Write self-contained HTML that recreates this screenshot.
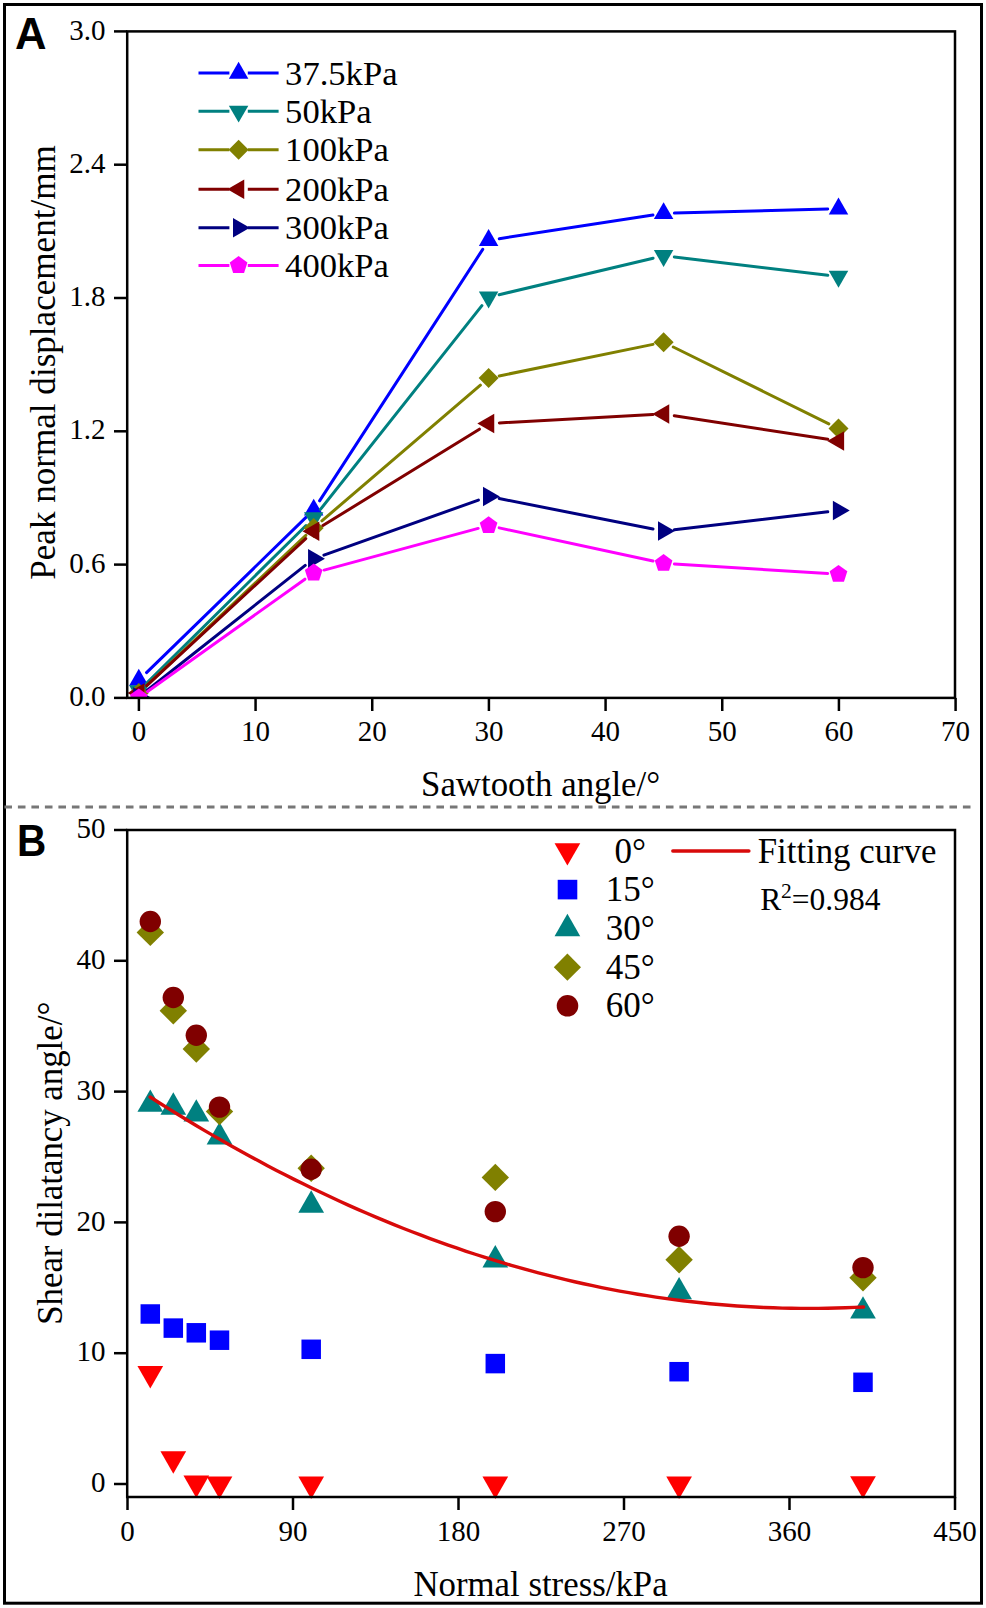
<!DOCTYPE html>
<html><head><meta charset="utf-8"><style>
html,body{margin:0;padding:0;background:#fff;}
body{width:986px;height:1608px;overflow:hidden;font-family:"Liberation Serif",serif;}
svg{display:block;}
</style></head><body>
<svg width="986" height="1608" viewBox="0 0 986 1608">
<rect x="0" y="0" width="986" height="1608" fill="#fff"/>
<rect x="4.5" y="4.5" width="977" height="1598.7" fill="none" stroke="#000" stroke-width="3"/>
<line x1="4.4" y1="807" x2="971.6" y2="807" stroke="#777" stroke-width="3" stroke-dasharray="7.6 5.9"/>
<text x="15.0" y="48.7" font-family="Liberation Sans, sans-serif" font-weight="bold" font-size="43.7" fill="#000">A</text>
<text transform="translate(16.9,855.6) scale(0.93,1)" x="0" y="0" font-family="Liberation Sans, sans-serif" font-weight="bold" font-size="43.6" fill="#000">B</text>
<line x1="114" y1="697.90" x2="127.2" y2="697.90" stroke="#000" stroke-width="2.5"/>
<text x="105.6" y="706.00" font-family="Liberation Serif, serif" font-size="29" text-anchor="end">0.0</text>
<line x1="114" y1="564.60" x2="127.2" y2="564.60" stroke="#000" stroke-width="2.5"/>
<text x="105.6" y="572.70" font-family="Liberation Serif, serif" font-size="29" text-anchor="end">0.6</text>
<line x1="114" y1="431.30" x2="127.2" y2="431.30" stroke="#000" stroke-width="2.5"/>
<text x="105.6" y="439.40" font-family="Liberation Serif, serif" font-size="29" text-anchor="end">1.2</text>
<line x1="114" y1="298.00" x2="127.2" y2="298.00" stroke="#000" stroke-width="2.5"/>
<text x="105.6" y="306.10" font-family="Liberation Serif, serif" font-size="29" text-anchor="end">1.8</text>
<line x1="114" y1="164.70" x2="127.2" y2="164.70" stroke="#000" stroke-width="2.5"/>
<text x="105.6" y="172.80" font-family="Liberation Serif, serif" font-size="29" text-anchor="end">2.4</text>
<line x1="114" y1="31.40" x2="127.2" y2="31.40" stroke="#000" stroke-width="2.5"/>
<text x="105.6" y="39.50" font-family="Liberation Serif, serif" font-size="29" text-anchor="end">3.0</text>
<line x1="138.90" y1="697.9" x2="138.90" y2="711" stroke="#000" stroke-width="2.5"/>
<text x="138.90" y="741.3" font-family="Liberation Serif, serif" font-size="29" text-anchor="middle">0</text>
<line x1="255.57" y1="697.9" x2="255.57" y2="711" stroke="#000" stroke-width="2.5"/>
<text x="255.57" y="741.3" font-family="Liberation Serif, serif" font-size="29" text-anchor="middle">10</text>
<line x1="372.24" y1="697.9" x2="372.24" y2="711" stroke="#000" stroke-width="2.5"/>
<text x="372.24" y="741.3" font-family="Liberation Serif, serif" font-size="29" text-anchor="middle">20</text>
<line x1="488.91" y1="697.9" x2="488.91" y2="711" stroke="#000" stroke-width="2.5"/>
<text x="488.91" y="741.3" font-family="Liberation Serif, serif" font-size="29" text-anchor="middle">30</text>
<line x1="605.58" y1="697.9" x2="605.58" y2="711" stroke="#000" stroke-width="2.5"/>
<text x="605.58" y="741.3" font-family="Liberation Serif, serif" font-size="29" text-anchor="middle">40</text>
<line x1="722.25" y1="697.9" x2="722.25" y2="711" stroke="#000" stroke-width="2.5"/>
<text x="722.25" y="741.3" font-family="Liberation Serif, serif" font-size="29" text-anchor="middle">50</text>
<line x1="838.92" y1="697.9" x2="838.92" y2="711" stroke="#000" stroke-width="2.5"/>
<text x="838.92" y="741.3" font-family="Liberation Serif, serif" font-size="29" text-anchor="middle">60</text>
<line x1="955.59" y1="697.9" x2="955.59" y2="711" stroke="#000" stroke-width="2.5"/>
<text x="955.59" y="741.3" font-family="Liberation Serif, serif" font-size="29" text-anchor="middle">70</text>
<text x="540.6" y="795.9" font-family="Liberation Serif, serif" font-size="34.8" text-anchor="middle">Sawtooth angle/°</text>
<text transform="translate(55.0,362.5) rotate(-90)" x="0" y="0" font-family="Liberation Serif, serif" font-size="35.1" text-anchor="middle">Peak normal displacement/mm</text>
<clipPath id="clipA"><rect x="127.2" y="31.4" width="827.8" height="666.5"/></clipPath>
<g clip-path="url(#clipA)">
<path d="M146.54,672.57L305.96,517.43M319.58,500.84L482.72,249.36M499.27,238.66L652.93,215.04M674.40,213.12L827.70,209.08" stroke="#0000FF" stroke-width="3" fill="none" stroke-linecap="round"/>
<path d="M138.80,668.84L148.55,685.73L129.05,685.73Z" fill="#0000FF"/>
<path d="M313.70,498.64L323.45,515.53L303.95,515.53Z" fill="#0000FF"/>
<path d="M488.60,229.04L498.35,245.93L478.85,245.93Z" fill="#0000FF"/>
<path d="M663.60,202.14L673.35,219.03L653.85,219.03Z" fill="#0000FF"/>
<path d="M838.50,197.54L848.25,214.43L828.75,214.43Z" fill="#0000FF"/>
<path d="M146.48,683.40L306.02,525.50M320.41,509.44L481.89,305.66M499.11,294.71L653.09,258.19M674.32,256.98L827.78,275.22" stroke="#008080" stroke-width="3" fill="none" stroke-linecap="round"/>
<path d="M138.80,702.26L148.55,685.37L129.05,685.37Z" fill="#008080"/>
<path d="M313.70,529.16L323.45,512.27L303.95,512.27Z" fill="#008080"/>
<path d="M488.60,308.46L498.35,291.57L478.85,291.57Z" fill="#008080"/>
<path d="M663.60,266.96L673.35,250.07L653.85,250.07Z" fill="#008080"/>
<path d="M838.50,287.76L848.25,270.87L828.75,270.87Z" fill="#008080"/>
<path d="M146.65,685.59L305.85,535.31M321.90,520.87L480.40,385.13M499.18,375.93L653.02,344.37M673.28,346.98L828.82,423.82" stroke="#808000" stroke-width="3" fill="none" stroke-linecap="round"/>
<path d="M138.80,683.00L148.80,693.00L138.80,703.00L128.80,693.00Z" fill="#808000"/>
<path d="M313.70,517.90L323.70,527.90L313.70,537.90L303.70,527.90Z" fill="#808000"/>
<path d="M488.60,368.10L498.60,378.10L488.60,388.10L478.60,378.10Z" fill="#808000"/>
<path d="M663.60,332.20L673.60,342.20L663.60,352.20L653.60,342.20Z" fill="#808000"/>
<path d="M838.50,418.60L848.50,428.60L838.50,438.60L828.50,428.60Z" fill="#808000"/>
<path d="M146.73,685.67L305.77,538.53M322.90,525.54L479.40,429.16M499.38,422.91L652.82,414.59M674.27,415.65L827.83,439.35" stroke="#800000" stroke-width="3" fill="none" stroke-linecap="round"/>
<path d="M127.54,693.00L144.43,683.25L144.43,702.75Z" fill="#800000"/>
<path d="M302.44,531.20L319.33,521.45L319.33,540.95Z" fill="#800000"/>
<path d="M477.34,423.50L494.23,413.75L494.23,433.25Z" fill="#800000"/>
<path d="M652.34,414.00L669.23,404.25L669.23,423.75Z" fill="#800000"/>
<path d="M827.24,441.00L844.13,431.25L844.13,450.75Z" fill="#800000"/>
<path d="M147.27,690.30L305.23,565.40M323.88,555.08L478.42,500.12M499.20,498.59L653.00,528.91M674.33,529.74L827.77,511.76" stroke="#000080" stroke-width="3" fill="none" stroke-linecap="round"/>
<path d="M150.06,697.00L133.17,687.25L133.17,706.75Z" fill="#000080"/>
<path d="M324.96,558.70L308.07,548.95L308.07,568.45Z" fill="#000080"/>
<path d="M499.86,496.50L482.97,486.75L482.97,506.25Z" fill="#000080"/>
<path d="M674.86,531.00L657.97,521.25L657.97,540.75Z" fill="#000080"/>
<path d="M849.76,510.50L832.87,500.75L832.87,520.25Z" fill="#000080"/>
<path d="M147.59,691.43L304.91,579.17M324.13,570.08L478.17,528.42M499.16,527.87L653.04,561.03M674.38,563.97L827.72,573.53" stroke="#FF00FF" stroke-width="3" fill="none" stroke-linecap="round"/>
<path d="M138.80,688.40L147.64,694.83L144.27,705.22L133.33,705.22L129.96,694.83Z" fill="#FF00FF"/>
<path d="M313.70,563.60L322.54,570.03L319.17,580.42L308.23,580.42L304.86,570.03Z" fill="#FF00FF"/>
<path d="M488.60,516.30L497.44,522.73L494.07,533.12L483.13,533.12L479.76,522.73Z" fill="#FF00FF"/>
<path d="M663.60,554.00L672.44,560.43L669.07,570.82L658.13,570.82L654.76,560.43Z" fill="#FF00FF"/>
<path d="M838.50,564.90L847.34,571.33L843.97,581.72L833.03,581.72L829.66,571.33Z" fill="#FF00FF"/>
</g>
<rect x="127.2" y="31.4" width="827.8" height="666.5" fill="none" stroke="#000" stroke-width="2.5"/>
<path d="M198.5,73.0H229.4M247.8,73.0H278.6" stroke="#0000FF" stroke-width="3" fill="none"/>
<path d="M238.60,61.74L248.35,78.63L228.85,78.63Z" fill="#0000FF"/>
<text x="285.1" y="84.60" font-family="Liberation Serif, serif" font-size="34.6">37.5kPa</text>
<path d="M198.5,111.3H229.4M247.8,111.3H278.6" stroke="#008080" stroke-width="3" fill="none"/>
<path d="M238.60,122.56L248.35,105.67L228.85,105.67Z" fill="#008080"/>
<text x="285.1" y="122.90" font-family="Liberation Serif, serif" font-size="34.6">50kPa</text>
<path d="M198.5,149.8H229.4M247.8,149.8H278.6" stroke="#808000" stroke-width="3" fill="none"/>
<path d="M238.60,139.80L248.60,149.80L238.60,159.80L228.60,149.80Z" fill="#808000"/>
<text x="285.1" y="161.40" font-family="Liberation Serif, serif" font-size="34.6">100kPa</text>
<path d="M198.5,189.2H229.4M247.8,189.2H278.6" stroke="#800000" stroke-width="3" fill="none"/>
<path d="M227.34,189.20L244.23,179.45L244.23,198.95Z" fill="#800000"/>
<text x="285.1" y="200.80" font-family="Liberation Serif, serif" font-size="34.6">200kPa</text>
<path d="M198.5,227.7H229.4M247.8,227.7H278.6" stroke="#000080" stroke-width="3" fill="none"/>
<path d="M249.86,227.70L232.97,217.95L232.97,237.45Z" fill="#000080"/>
<text x="285.1" y="239.30" font-family="Liberation Serif, serif" font-size="34.6">300kPa</text>
<path d="M198.5,265.4H229.4M247.8,265.4H278.6" stroke="#FF00FF" stroke-width="3" fill="none"/>
<path d="M238.60,256.10L247.44,262.53L244.07,272.92L233.13,272.92L229.76,262.53Z" fill="#FF00FF"/>
<text x="285.1" y="277.00" font-family="Liberation Serif, serif" font-size="34.6">400kPa</text>
<line x1="114" y1="1484.00" x2="127.2" y2="1484.00" stroke="#000" stroke-width="2.5"/>
<text x="105.6" y="1492.10" font-family="Liberation Serif, serif" font-size="29" text-anchor="end">0</text>
<line x1="114" y1="1353.20" x2="127.2" y2="1353.20" stroke="#000" stroke-width="2.5"/>
<text x="105.6" y="1361.30" font-family="Liberation Serif, serif" font-size="29" text-anchor="end">10</text>
<line x1="114" y1="1222.40" x2="127.2" y2="1222.40" stroke="#000" stroke-width="2.5"/>
<text x="105.6" y="1230.50" font-family="Liberation Serif, serif" font-size="29" text-anchor="end">20</text>
<line x1="114" y1="1091.60" x2="127.2" y2="1091.60" stroke="#000" stroke-width="2.5"/>
<text x="105.6" y="1099.70" font-family="Liberation Serif, serif" font-size="29" text-anchor="end">30</text>
<line x1="114" y1="960.80" x2="127.2" y2="960.80" stroke="#000" stroke-width="2.5"/>
<text x="105.6" y="968.90" font-family="Liberation Serif, serif" font-size="29" text-anchor="end">40</text>
<line x1="114" y1="830.00" x2="127.2" y2="830.00" stroke="#000" stroke-width="2.5"/>
<text x="105.6" y="838.10" font-family="Liberation Serif, serif" font-size="29" text-anchor="end">50</text>
<line x1="127.50" y1="1497.0" x2="127.50" y2="1510" stroke="#000" stroke-width="2.5"/>
<text x="127.50" y="1540.7" font-family="Liberation Serif, serif" font-size="29" text-anchor="middle">0</text>
<line x1="293.00" y1="1497.0" x2="293.00" y2="1510" stroke="#000" stroke-width="2.5"/>
<text x="293.00" y="1540.7" font-family="Liberation Serif, serif" font-size="29" text-anchor="middle">90</text>
<line x1="458.50" y1="1497.0" x2="458.50" y2="1510" stroke="#000" stroke-width="2.5"/>
<text x="458.50" y="1540.7" font-family="Liberation Serif, serif" font-size="29" text-anchor="middle">180</text>
<line x1="624.00" y1="1497.0" x2="624.00" y2="1510" stroke="#000" stroke-width="2.5"/>
<text x="624.00" y="1540.7" font-family="Liberation Serif, serif" font-size="29" text-anchor="middle">270</text>
<line x1="789.50" y1="1497.0" x2="789.50" y2="1510" stroke="#000" stroke-width="2.5"/>
<text x="789.50" y="1540.7" font-family="Liberation Serif, serif" font-size="29" text-anchor="middle">360</text>
<line x1="955.00" y1="1497.0" x2="955.00" y2="1510" stroke="#000" stroke-width="2.5"/>
<text x="955.00" y="1540.7" font-family="Liberation Serif, serif" font-size="29" text-anchor="middle">450</text>
<text x="540.5" y="1595.5" font-family="Liberation Serif, serif" font-size="34.8" text-anchor="middle">Normal stress/kPa</text>
<text transform="translate(61.9,1163.25) rotate(-90)" x="0" y="0" font-family="Liberation Serif, serif" font-size="34.8" text-anchor="middle">Shear dilatancy angle/°</text>
<clipPath id="clipB"><rect x="127.2" y="830.0" width="827.8" height="667.0"/></clipPath>
<g>
<path d="M137.45,1366.00H163.15L150.30,1388.40Z" fill="#FF0000"/>
<path d="M160.45,1451.30H186.15L173.30,1473.70Z" fill="#FF0000"/>
<path d="M183.45,1475.60H209.15L196.30,1498.00Z" fill="#FF0000"/>
<path d="M206.65,1476.50H232.35L219.50,1498.90Z" fill="#FF0000"/>
<path d="M298.35,1476.50H324.05L311.20,1498.90Z" fill="#FF0000"/>
<path d="M482.45,1476.50H508.15L495.30,1498.90Z" fill="#FF0000"/>
<path d="M666.25,1476.50H691.95L679.10,1498.90Z" fill="#FF0000"/>
<path d="M850.15,1476.30H875.85L863.00,1498.70Z" fill="#FF0000"/>
<path d="M140.55,1304.25h19.50v19.50h-19.50Z" fill="#0000FF"/>
<path d="M163.55,1318.35h19.50v19.50h-19.50Z" fill="#0000FF"/>
<path d="M186.55,1323.05h19.50v19.50h-19.50Z" fill="#0000FF"/>
<path d="M209.75,1330.45h19.50v19.50h-19.50Z" fill="#0000FF"/>
<path d="M301.45,1339.55h19.50v19.50h-19.50Z" fill="#0000FF"/>
<path d="M485.55,1353.85h19.50v19.50h-19.50Z" fill="#0000FF"/>
<path d="M669.35,1361.95h19.50v19.50h-19.50Z" fill="#0000FF"/>
<path d="M853.25,1372.55h19.50v19.50h-19.50Z" fill="#0000FF"/>
<path d="M150.30,1089.40L163.15,1111.80H137.45Z" fill="#008080"/>
<path d="M173.30,1092.30L186.15,1114.70H160.45Z" fill="#008080"/>
<path d="M196.30,1099.20L209.15,1121.60H183.45Z" fill="#008080"/>
<path d="M219.50,1122.00L232.35,1144.40H206.65Z" fill="#008080"/>
<path d="M311.20,1190.30L324.05,1212.70H298.35Z" fill="#008080"/>
<path d="M495.30,1245.00L508.15,1267.40H482.45Z" fill="#008080"/>
<path d="M679.10,1276.90L691.95,1299.30H666.25Z" fill="#008080"/>
<path d="M863.00,1296.20L875.85,1318.60H850.15Z" fill="#008080"/>
<path d="M150.30,918.70L164.00,932.40L150.30,946.10L136.60,932.40Z" fill="#808000"/>
<path d="M173.30,997.10L187.00,1010.80L173.30,1024.50L159.60,1010.80Z" fill="#808000"/>
<path d="M196.30,1035.30L210.00,1049.00L196.30,1062.70L182.60,1049.00Z" fill="#808000"/>
<path d="M219.50,1097.90L233.20,1111.60L219.50,1125.30L205.80,1111.60Z" fill="#808000"/>
<path d="M311.20,1154.50L324.90,1168.20L311.20,1181.90L297.50,1168.20Z" fill="#808000"/>
<path d="M495.30,1163.70L509.00,1177.40L495.30,1191.10L481.60,1177.40Z" fill="#808000"/>
<path d="M679.10,1246.10L692.80,1259.80L679.10,1273.50L665.40,1259.80Z" fill="#808000"/>
<path d="M863.00,1264.00L876.70,1277.70L863.00,1291.40L849.30,1277.70Z" fill="#808000"/>
<circle cx="150.30" cy="921.50" r="10.7" fill="#800000"/>
<circle cx="173.30" cy="997.50" r="10.7" fill="#800000"/>
<circle cx="196.30" cy="1035.30" r="10.7" fill="#800000"/>
<circle cx="219.50" cy="1107.10" r="10.7" fill="#800000"/>
<circle cx="311.20" cy="1169.30" r="10.7" fill="#800000"/>
<circle cx="495.30" cy="1211.60" r="10.7" fill="#800000"/>
<circle cx="679.10" cy="1236.30" r="10.7" fill="#800000"/>
<circle cx="863.00" cy="1267.60" r="10.7" fill="#800000"/>
</g>
<path d="M150.10,1096.96L159.13,1102.72L168.16,1108.41L177.19,1114.01L186.23,1119.53L195.26,1124.98L204.29,1130.34L213.32,1135.63L222.35,1140.83L231.38,1145.96L240.42,1151.00L249.45,1155.97L258.48,1160.86L267.51,1165.66L276.54,1170.39L285.57,1175.04L294.61,1179.61L303.64,1184.09L312.67,1188.50L321.70,1192.83L330.73,1197.08L339.76,1201.25L348.80,1205.34L357.83,1209.35L366.86,1213.29L375.89,1217.14L384.92,1220.91L393.95,1224.60L402.99,1228.22L412.02,1231.75L421.05,1235.20L430.08,1238.58L439.11,1241.87L448.14,1245.09L457.18,1248.22L466.21,1251.28L475.24,1254.25L484.27,1257.15L493.30,1259.97L502.33,1262.71L511.37,1265.36L520.40,1267.94L529.43,1270.44L538.46,1272.86L547.49,1275.20L556.52,1277.46L565.56,1279.64L574.59,1281.74L583.62,1283.76L592.65,1285.70L601.68,1287.56L610.71,1289.35L619.75,1291.05L628.78,1292.67L637.81,1294.22L646.84,1295.68L655.87,1297.06L664.90,1298.37L673.94,1299.59L682.97,1300.74L692.00,1301.80L701.03,1302.79L710.06,1303.70L719.09,1304.52L728.13,1305.27L737.16,1305.94L746.19,1306.53L755.22,1307.04L764.25,1307.47L773.28,1307.82L782.32,1308.09L791.35,1308.28L800.38,1308.39L809.41,1308.42L818.44,1308.37L827.47,1308.24L836.51,1308.03L845.54,1307.75L854.57,1307.38L863.60,1306.93" stroke="#D80A0A" stroke-width="3.4" fill="none" stroke-linecap="round" stroke-linejoin="round"/>
<rect x="127.2" y="830.0" width="827.8" height="667.0" fill="none" stroke="#000" stroke-width="2.5"/>
<path d="M554.55,843.20H580.25L567.40,865.60Z" fill="#FF0000"/>
<path d="M557.70,879.80h19.60v19.60h-19.60Z" fill="#0000FF"/>
<path d="M567.40,913.80L580.25,936.20H554.55Z" fill="#008080"/>
<path d="M567.40,953.60L581.00,967.20L567.40,980.80L553.80,967.20Z" fill="#808000"/>
<circle cx="567.5" cy="1005.8" r="10.8" fill="#800000"/>
<text x="614.5" y="862.7" font-family="Liberation Serif, serif" font-size="35">0°</text>
<text x="605.8" y="901.4" font-family="Liberation Serif, serif" font-size="35">15°</text>
<text x="605.8" y="940.0" font-family="Liberation Serif, serif" font-size="35">30°</text>
<text x="605.8" y="978.8" font-family="Liberation Serif, serif" font-size="35">45°</text>
<text x="605.8" y="1017.2" font-family="Liberation Serif, serif" font-size="35">60°</text>
<line x1="672.8" y1="851" x2="748.9" y2="851" stroke="#D80A0A" stroke-width="3.4" stroke-linecap="round"/>
<text x="757.7" y="862.9" font-family="Liberation Serif, serif" font-size="34.8">Fitting curve</text>
<text x="760.2" y="909.8" font-family="Liberation Serif, serif" font-size="31.5">R</text>
<text x="781.0" y="897.5" font-family="Liberation Serif, serif" font-size="21.5">2</text>
<text x="791.8" y="909.8" font-family="Liberation Serif, serif" font-size="31.5">=0.984</text>
</svg>
</body></html>
